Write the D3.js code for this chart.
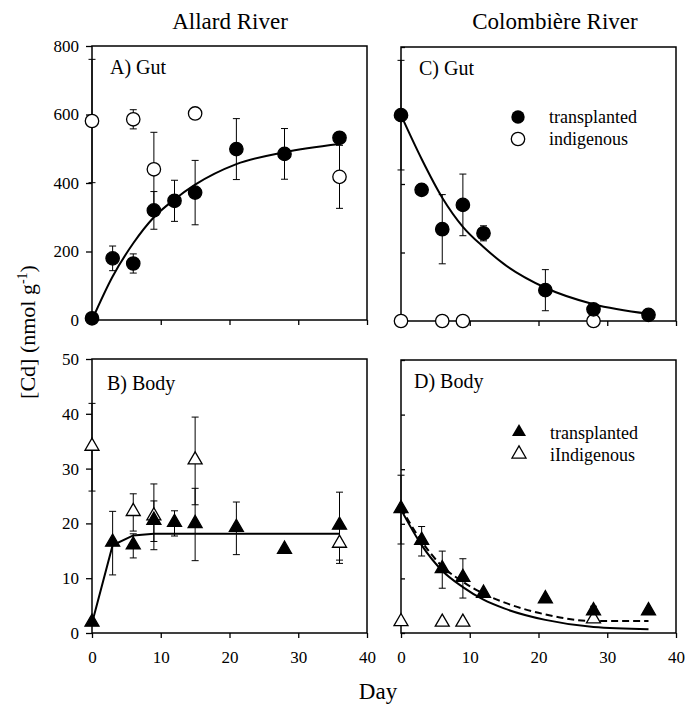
<!DOCTYPE html>
<html>
<head>
<meta charset="utf-8">
<script src="https://cdn.jsdelivr.net/npm/d3@7"></script>
<style>
  body { margin: 0; background: #fff; }
  svg text { font-family: "Liberation Serif", "Times New Roman", serif; fill: #000; }
</style>
</head>
<body>
<div id="svgDiv" style="width:685px;height:705px;"></div>
<script>
//data
var riverTitles = ["Allard River", "Colombière River"];
var dayTicks = [0, 10, 20, 30, 40];
var gutTicks = [0, 200, 400, 600, 800];
var bodyTicks = [0, 10, 20, 30, 40, 50];

//A) Allard gut
var allardDays = [0, 3, 6, 9, 12, 15, 21, 28, 36];
var allardGutTrans = [5, 180, 165, 320, 348, 372, 499, 485, 532];
var allardGutTransErr = [0, 36, 28, 55, 60, 94, 89, 74, 0];
var allardIndigDays = [0, 6, 9, 15, 36];
var allardGutIndig = [581, 586, 440, 603, 418];
var allardGutIndigErr = [180, 28, 108, 0, 92];
var fitDays = [0, 3, 6, 9, 12, 15, 21, 28, 36];
var allardGutFit = [0, 127, 224, 300, 352, 395, 455, 490, 514];

//B) Allard body
var allardBodyTrans = [1.8, 16.4, 15.9, 20.4, 20, 19.8, 19.1, 15.1, 19.5];
var allardBodyTransErr = [0, 5.8, 2.2, 3.7, 2.3, 6.6, 4.8, 0.5, 6.2];
var allardBodyIndig = [33.9, 22, 21.2, 31.4, 16.2];
var allardBodyIndigErr = [8, 3.4, 6, 8, 3.5];
var allardBodyFit = [1.8, 16, 17.8, 18.1, 18.1, 18.1, 18.1, 18.1, 18.1];

//C) Colombiere gut
var colDays = [0, 3, 6, 9, 12, 21, 28, 36];
var colGutTrans = [601, 383, 268, 339, 256, 90, 34, 18];
var colGutTransErr = [160, 0, 101, 90, 22, 60, 0, 0];
var colIndigDays = [0, 6, 9, 28];
var colGutIndig = [0, 0, 0, 0];
var colGutFit = [601, 473, 360, 275, 216, 166, 97, 49, 21];

//D) Colombiere body
var colBodyTrans = [22.6, 16.8, 11.6, 10, 7.1, 6.1, 3.9, 3.9];
var colBodyTransErr = [6.3, 2.7, 3.4, 3.6, 0, 0, 1, 0];
var colBodyIndig = [1.9, 1.8, 1.8, 2.4];
var colBodyFitSolid = [22.6, 16.1, 11.4, 8.4, 6.1, 4.5, 2.4, 1.1, 0.7];
var colBodyFitDashed = [22.9, 16.8, 12.2, 9.4, 7.2, 5.6, 3.4, 2.2, 2.2];

var svg;

function zip(xs, ys, es){
    return xs.map(function(d, i){
        return {day: d, v: ys[i], e: es ? es[i] : 0};
    });
}

//draws one panel frame + axes, returns its scales
function makePanel(left, right, top, bottom, yMax, yTicks, isLeft, isBottom){
    var x = d3.scaleLinear().domain([0, 40]).range([left, right]);
    var y = d3.scaleLinear().domain([0, yMax]).range([bottom, top]);
    var g = svg.append("g");

    var xAxis = d3.axisBottom(x).tickValues(dayTicks).tickSize(5).tickSizeOuter(0).tickPadding(13);
    if(!isBottom) xAxis.tickFormat("");
    g.append("g").attr("transform", "translate(0," + bottom + ")").call(xAxis)
        .call(function(a){ a.select(".domain").remove(); });

    var yAxis;
    if(isLeft)
        yAxis = d3.axisLeft(y).tickValues(yTicks).tickSize(6).tickSizeOuter(0).tickPadding(7);
    else
        yAxis = d3.axisLeft(y).tickValues(yTicks).tickSize(-4).tickSizeOuter(0).tickFormat("");
    g.append("g").attr("transform", "translate(" + left + ",0)").call(yAxis)
        .call(function(a){ a.select(".domain").remove(); });

    g.selectAll(".tick line").attr("stroke", "#000").attr("stroke-width", 1.3);
    g.selectAll(".tick text").style("font-size", "17px")
        .style("font-family", "'Liberation Serif', 'Times New Roman', serif");

    g.append("rect")
        .attr("x", left).attr("y", top)
        .attr("width", right - left).attr("height", bottom - top)
        .attr("fill", "none").attr("stroke", "#000").attr("stroke-width", 1.5);

    return {x: x, y: y, g: g};
}

function drawErrors(p, data){
    var eb = data.filter(function(d){ return d.e > 0; });
    var grp = p.g.append("g").attr("stroke", "#000").attr("stroke-width", 1);
    eb.forEach(function(d){
        var cx = p.x(d.day);
        grp.append("line").attr("x1", cx).attr("x2", cx)
            .attr("y1", p.y(d.v - d.e)).attr("y2", p.y(d.v + d.e));
        [d.v - d.e, d.v + d.e].forEach(function(v){
            grp.append("line").attr("x1", cx - 3.5).attr("x2", cx + 3.5)
                .attr("y1", p.y(v)).attr("y2", p.y(v));
        });
    });
}

function drawCurve(p, days, vals, dashed, curve){
    var line = d3.line()
        .x(function(d){ return p.x(d.day); })
        .y(function(d){ return p.y(d.v); })
        .curve(curve || d3.curveMonotoneX);
    p.g.append("path")
        .datum(zip(days, vals))
        .attr("d", line)
        .attr("fill", "none")
        .attr("stroke", "#000")
        .attr("stroke-width", 2)
        .attr("stroke-dasharray", dashed ? "7,4" : null);
}

function drawCircles(p, data, filled){
    p.g.append("g").selectAll("circle")
        .data(data)
        .enter().append("circle")
        .attr("cx", function(d){ return p.x(d.day); })
        .attr("cy", function(d){ return p.y(d.v); })
        .attr("r", 6.7)
        .attr("fill", filled ? "#000" : "#fff")
        .attr("stroke", "#000")
        .attr("stroke-width", 1.3);
}

function drawTriangles(p, data, filled){
    var sym = d3.symbol().type(d3.symbolTriangle).size(85);
    p.g.append("g").selectAll("path")
        .data(data)
        .enter().append("path")
        .attr("d", sym)
        .attr("transform", function(d){
            return "translate(" + p.x(d.day) + "," + (p.y(d.v) - 1) + ")";
        })
        .attr("fill", filled ? "#000" : "#fff")
        .attr("stroke", "#000")
        .attr("stroke-width", 1.3);
}

function label(p, x, y, txt, size){
    p.g.append("text").attr("x", x).attr("y", y)
        .style("font-size", size + "px").text(txt);
}

document.addEventListener('DOMContentLoaded', function(){

    svg = d3.select("#svgDiv")
        .append("svg")
        .attr("width", 685)
        .attr("height", 705);

    //column titles
    svg.append("text").attr("x", 230).attr("y", 29).attr("text-anchor", "middle")
        .style("font-size", "23px").text(riverTitles[0]);
    svg.append("text").attr("x", 555).attr("y", 29).attr("text-anchor", "middle")
        .style("font-size", "23px").text(riverTitles[1]);

    //A
    var pA = makePanel(92, 367, 46, 320, 800, gutTicks, true, false);
    var aTrans = zip(allardDays, allardGutTrans, allardGutTransErr);
    var aIndig = zip(allardIndigDays, allardGutIndig, allardGutIndigErr);
    drawErrors(pA, aIndig);
    drawErrors(pA, aTrans);
    drawCurve(pA, fitDays, allardGutFit, false);
    drawCircles(pA, aIndig, false);
    drawCircles(pA, aTrans, true);
    label(pA, 110, 74, "A) Gut", 20);

    //C
    var pC = makePanel(401, 676, 47, 321, 800, gutTicks, false, false);
    var cTrans = zip(colDays, colGutTrans, colGutTransErr);
    var cIndig = zip(colIndigDays, colGutIndig);
    drawErrors(pC, cTrans);
    drawCurve(pC, fitDays, colGutFit, false);
    drawCircles(pC, cIndig, false);
    drawCircles(pC, cTrans, true);
    label(pC, 419, 75, "C) Gut", 20);
    pC.g.append("circle").attr("cx", 518).attr("cy", 117).attr("r", 6.7).attr("fill", "#000");
    pC.g.append("circle").attr("cx", 518).attr("cy", 139).attr("r", 6.7)
        .attr("fill", "#fff").attr("stroke", "#000").attr("stroke-width", 1.3);
    label(pC, 549, 123, "transplanted", 18);
    label(pC, 549, 145, "indigenous", 18);

    //B
    var pB = makePanel(92, 367, 359, 633, 50, bodyTicks, true, true);
    var bTrans = zip(allardDays, allardBodyTrans, allardBodyTransErr);
    var bIndig = zip(allardIndigDays, allardBodyIndig, allardBodyIndigErr);
    drawErrors(pB, bIndig);
    drawErrors(pB, bTrans);
    drawCurve(pB, fitDays, allardBodyFit, false, d3.curveLinear);
    drawTriangles(pB, bIndig, false);
    drawTriangles(pB, bTrans, true);
    label(pB, 107, 390, "B) Body", 20);

    //D
    var pD = makePanel(401, 676, 360, 633, 50, bodyTicks, false, true);
    var dTrans = zip(colDays, colBodyTrans, colBodyTransErr);
    var dIndig = zip(colIndigDays, colBodyIndig);
    drawErrors(pD, dTrans);
    drawCurve(pD, fitDays, colBodyFitSolid, false);
    drawCurve(pD, fitDays, colBodyFitDashed, true);
    drawTriangles(pD, dIndig, false);
    drawTriangles(pD, dTrans, true);
    label(pD, 414, 388, "D) Body", 20);
    var sym = d3.symbol().type(d3.symbolTriangle).size(85);
    pD.g.append("path").attr("d", sym).attr("transform", "translate(519,432)").attr("fill", "#000");
    pD.g.append("path").attr("d", sym).attr("transform", "translate(519,454)")
        .attr("fill", "#fff").attr("stroke", "#000").attr("stroke-width", 1.3);
    label(pD, 550, 439, "transplanted", 18);
    label(pD, 550, 461, "iIndigenous", 18);

    //axis titles
    svg.append("text").attr("x", 378).attr("y", 699).attr("text-anchor", "middle")
        .style("font-size", "23px").text("Day");
    var yt = svg.append("text")
        .attr("transform", "translate(35,332) rotate(-90)")
        .attr("text-anchor", "middle")
        .style("font-size", "22px");
    yt.append("tspan").text("[Cd] (nmol g");
    yt.append("tspan").attr("dy", -8).style("font-size", "14px").text("-1");
    yt.append("tspan").attr("dy", 8).text(")");
});
</script>
</body>
</html>
